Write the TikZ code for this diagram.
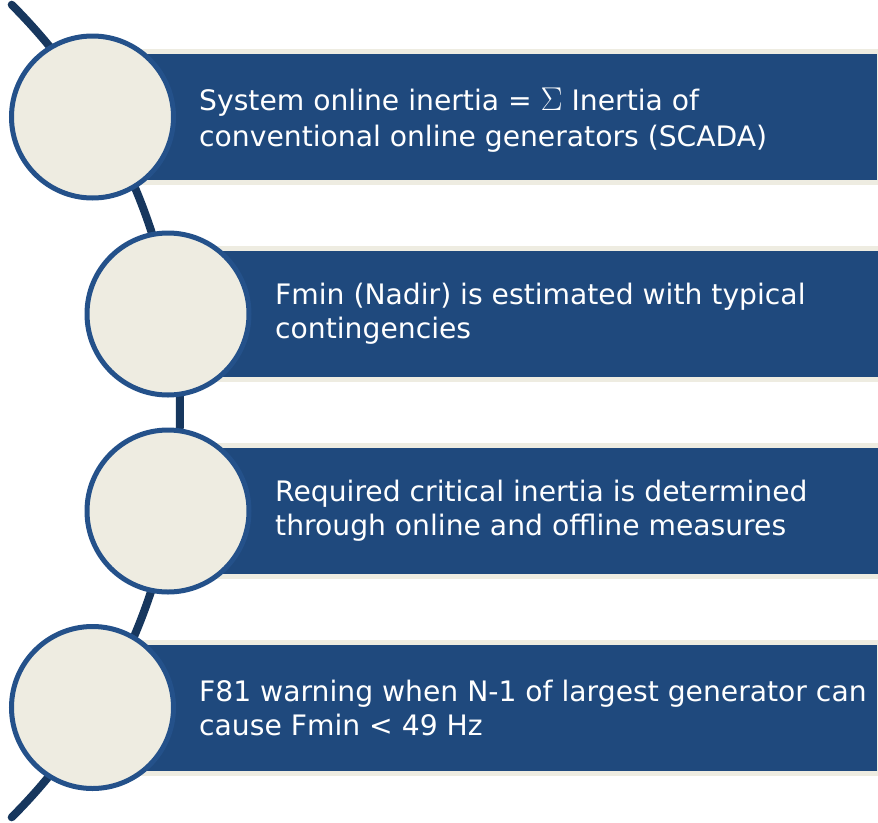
\RequirePackage{fix-cm}
\documentclass[tikz,border=0pt]{standalone}
\usepackage{fontspec}
\setmainfont{DejaVu Sans}
\usetikzlibrary{positioning}
\definecolor{barblue}{HTML}{1F497D}
\definecolor{ringblue}{HTML}{24518A}
\definecolor{spineblue}{HTML}{17375E}
\definecolor{paper}{HTML}{EEECE1}
\newcommand{\bigsum}{{\fontsize{33}{33}\selectfont$\Sigma$}}
\tikzset{
    bar/.style={
        draw=paper,
        fill=barblue,
        line width=5pt,
        minimum width=765pt,
        minimum height=131pt,
        inner sep=0pt,
        anchor=west
    },
    disc/.style={
        circle,
        draw=ringblue,
        fill=paper,
        line width=5pt,
        minimum size=162pt,
        inner sep=0pt
    },
    caption/.style={text=white, align=left, inner sep=0pt, font=\fontsize{28.2}{34}\selectfont},
    spine/.style={draw=spineblue, line width=8pt, line cap=round}
}

\begin{document}
\begin{tikzpicture}[x=1pt, y=-1pt]
\useasboundingbox (0,0) rectangle (878,822);

% spine behind the circles
\coordinate (top) at (11.7,4.7);
\draw[spine] (top) arc[start angle=-45, end angle=45, radius=574.6] coordinate (bottom);

\node[bar] (b1) at (112,117) {};
\node[bar] (b2) at (188,314) {};
\node[bar] (b3) at (188,511) {};
\node[bar] (b4) at (112,707.5) {};

\node[caption, right=87pt of b1.west, yshift=-3pt] (t1) {System online inertia = \bigsum{} Inertia of\\[2pt]conventional online generators (SCADA)};
\node[caption, right=87pt of b2.west] (t2) {Fmin (Nadir) is estimated with typical\\contingencies};
\node[caption, right=87pt of b3.west] (t3) {Required critical inertia is determined\\through online and offline measures};
\node[caption, right=87pt of b4.west] (t4) {F81 warning when N-1 of largest generator can\\cause Fmin < 49 Hz};

\node[disc] (c1) at (92.5,117) {};
\node[disc] (c2) at (168,314) {};
\node[disc] (c3) at (168,511) {};
\node[disc] (c4) at (92.5,707.5) {};
\end{tikzpicture}
\end{document}
